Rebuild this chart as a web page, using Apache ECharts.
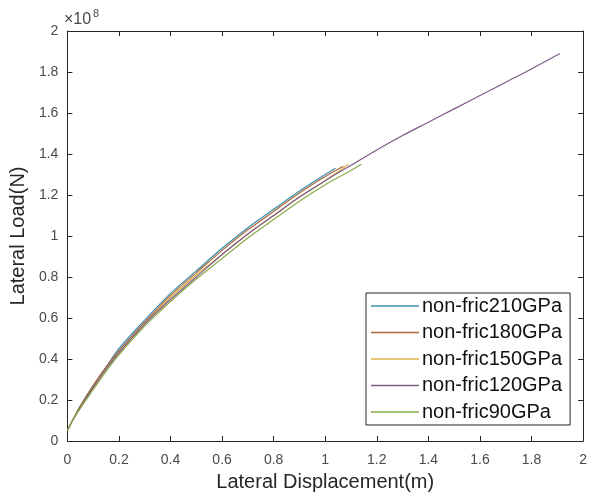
<!DOCTYPE html>
<html>
<head>
<meta charset="utf-8">
<script src="https://cdn.jsdelivr.net/npm/echarts@6/dist/echarts.min.js"></script>
<style>
  html, body { margin: 0; padding: 0; background: #fff; }
  #chart { width: 590px; height: 497px; }
</style>
</head>
<body>
<div id="chart"></div>
<script>
// Lateral load (×10^8 N) vs lateral displacement (m) for each elastic modulus
const xCommon = [0, 0.02, 0.05, 0.1, 0.15, 0.2, 0.3, 0.4, 0.5, 0.6, 0.7, 0.8, 0.9, 1.0];

const x210 = xCommon.concat([1.04]);
const y210 = [0.05, 0.10, 0.17, 0.27, 0.36, 0.45, 0.59, 0.72, 0.83, 0.94, 1.04, 1.13, 1.22, 1.30, 1.33];

const x180 = xCommon.concat([1.07]);
const y180 = [0.05, 0.10, 0.17, 0.27, 0.36, 0.44, 0.58, 0.71, 0.82, 0.93, 1.03, 1.12, 1.21, 1.29, 1.34];

const x150 = xCommon.concat([1.09]);
const y150 = [0.05, 0.10, 0.16, 0.26, 0.35, 0.43, 0.57, 0.70, 0.81, 0.91, 1.01, 1.10, 1.19, 1.27, 1.35];

const x120 = xCommon.concat([1.1, 1.2, 1.3, 1.4, 1.5, 1.6, 1.7, 1.8, 1.91]);
const y120 = [0.05, 0.10, 0.16, 0.26, 0.35, 0.43, 0.57, 0.69, 0.80, 0.91, 1.01, 1.10, 1.19, 1.27,
              1.345, 1.42, 1.49, 1.555, 1.62, 1.685, 1.75, 1.815, 1.89];

const x90 = xCommon.concat([1.1, 1.14]);
const y90 = [0.05, 0.10, 0.16, 0.25, 0.34, 0.42, 0.56, 0.68, 0.79, 0.89, 0.99, 1.08, 1.17, 1.25, 1.32, 1.35];

const seriesNames = ['non-fric210GPa', 'non-fric180GPa', 'non-fric150GPa', 'non-fric120GPa', 'non-fric90GPa'];
const seriesX = [x210, x180, x150, x120, x90];
const seriesY = [y210, y180, y150, y120, y90];
const seriesColors = ['#3d8fb0', '#a8683a', '#dcb54a', '#7d5a86', '#86ab48'];

const xTicks = [0, 0.2, 0.4, 0.6, 0.8, 1, 1.2, 1.4, 1.6, 1.8, 2];
const yTicks = [0, 0.2, 0.4, 0.6, 0.8, 1, 1.2, 1.4, 1.6, 1.8, 2];

const FONT = 'Liberation Sans, Arial, sans-serif';
const axisColor = '#262626';
const labelColor = '#4a4a4a';

function pairs(xs, ys) {
  return xs.map((x, i) => [x, ys[i]]);
}

const chart = echarts.init(document.getElementById('chart'), null, { renderer: 'canvas' });

const baseAxis = {
  min: 0, max: 2, interval: 0.2,
  axisLine: { show: true, onZero: false, lineStyle: { color: axisColor, width: 1 } },
  axisTick: { show: true, inside: true, length: 5, lineStyle: { color: axisColor } },
  splitLine: { show: false }
};

chart.setOption({
  animation: false,
  backgroundColor: '#fff',
  // exponent marker of the load axis
  graphic: [
    { type: 'text', left: 64, top: 12, style: { text: '×10', fontFamily: FONT, fontSize: 16, fill: labelColor } },
    { type: 'text', left: 93, top: 8, style: { text: '8', fontFamily: FONT, fontSize: 11, fill: labelColor } }
  ],
  grid: { left: 63, right: 5, top: 31, bottom: 55, containLabel: false },
  xAxis: [
    Object.assign({}, baseAxis, {
      type: 'value', position: 'bottom',
      name: 'Lateral Displacement(m)', nameLocation: 'middle', nameGap: 31,
      nameTextStyle: { fontFamily: FONT, fontSize: 20, color: axisColor },
      axisLabel: {
        fontFamily: FONT, fontSize: 14, color: labelColor, margin: 12,
        formatter: v => xTicks.includes(+v.toFixed(1)) ? String(+v.toFixed(1)) : ''
      }
    }),
    Object.assign({}, baseAxis, { type: 'value', position: 'top', axisLabel: { show: false } })
  ],
  yAxis: [
    Object.assign({}, baseAxis, {
      type: 'value', position: 'left',
      name: 'Lateral Load(N)', nameLocation: 'middle', nameGap: 38,
      nameTextStyle: { fontFamily: FONT, fontSize: 20, color: axisColor },
      axisLabel: {
        fontFamily: FONT, fontSize: 14, color: labelColor, margin: 9,
        formatter: v => yTicks.includes(+v.toFixed(1)) ? String(+v.toFixed(1)) : ''
      }
    }),
    Object.assign({}, baseAxis, { type: 'value', position: 'right', axisLabel: { show: false } })
  ],
  legend: {
    data: seriesNames,
    orient: 'vertical',
    left: 366, top: 293,
    backgroundColor: '#fff',
    borderColor: axisColor, borderWidth: 1, borderRadius: 0,
    padding: [3, 8, 3, 5],
    itemGap: 6.5,
    icon: 'rect',
    itemWidth: 48, itemHeight: 1.5,
    textStyle: { fontFamily: FONT, fontSize: 20, color: '#111', padding: [0, 0, 0, -2] }
  },
  series: seriesNames.map((name, i) => ({
    name: name,
    type: 'line',
    xAxisIndex: 0, yAxisIndex: 0,
    data: pairs(seriesX[i], seriesY[i]),
    smooth: 0.3,
    symbol: 'none',
    color: seriesColors[i],
    lineStyle: { width: 1.2, color: seriesColors[i] },
    z: 2
  }))
});
</script>
</body>
</html>
